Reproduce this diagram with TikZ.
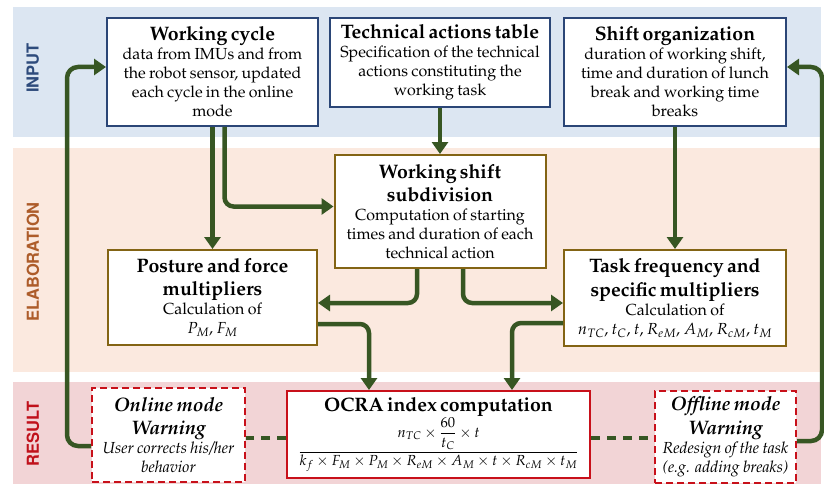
\documentclass[tikz,border=0pt]{standalone}
\usepackage[T1]{fontenc}
\usepackage{amsmath}
\usepackage{mathpazo}
\usepackage{helvet}
\usetikzlibrary{arrows.meta}

\definecolor{bandInput}{HTML}{DCE6F2}
\definecolor{bandElab}{HTML}{FBE9DF}
\definecolor{bandResult}{HTML}{F2D4D6}
\definecolor{txtInput}{HTML}{2E4B7C}
\definecolor{txtElab}{HTML}{AD5C2A}
\definecolor{txtResult}{HTML}{C0111B}
\definecolor{lineNavy}{HTML}{2B4677}
\definecolor{lineOlive}{HTML}{836414}
\definecolor{lineRed}{HTML}{C8101A}
\definecolor{flowGreen}{HTML}{375623}

\newcommand\boxtitle{\fontsize{19.5}{23.5}\selectfont\bfseries}
\newcommand\boxbody{\fontsize{16}{19}\selectfont}
\newcommand\formulasize{\fontsize{14.6}{17}\selectfont}

\tikzset{
  box/.style={draw, line width=2pt, fill=white, inner sep=2pt, align=center},
  inbox/.style={box, draw=lineNavy},
  elbox/.style={box, draw=lineOlive},
  resbox/.style={box, draw=lineRed},
  warnbox/.style={box, draw=lineRed, dash pattern=on 7pt off 4pt},
  flow/.style={draw=flowGreen, line width=4.5pt, rounded corners=9pt,
    -{Triangle[length=12pt,width=16pt]}},
  loopback/.style={flow, rounded corners=11pt},
  link/.style={draw=flowGreen, line width=3.5pt, dash pattern=on 9pt off 7pt},
  bandlabel/.style={rotate=90, font=\sffamily\bfseries\fontsize{16.5}{18}\selectfont},
}

\begin{document}
\begin{tikzpicture}[x=1pt,y=-1pt]
\useasboundingbox (0,0) rectangle (824,484);

% background bands
\fill[bandInput]  (13,7)   rectangle (821,137);
\fill[bandElab]   (13,148) rectangle (821,372);
\fill[bandResult] (13,382) rectangle (821,484);

\node[bandlabel, text=txtInput]  (lblIn)  at (33,68)  {INPUT};
\node[bandlabel, text=txtElab]   (lblEl)  at (33,262) {ELABORATION};
\node[bandlabel, text=txtResult] (lblRes) at (33,434) {RESULT};

% input row
\node[inbox, minimum width=211pt, minimum height=108pt, text width=207pt] (wc) at (212.5,72)
  {{\boxtitle Working cycle\par}\boxbody data from IMUs and from\\ the robot sensor, updated\\ each cycle in the online\\ mode\par};
\node[inbox, minimum width=220pt, minimum height=89pt, text width=216pt] (tat) at (440,62.5)
  {{\boxtitle Technical actions table\par}\boxbody Specification of the technical\\ actions constituting the\\ working task\par};
\node[inbox, minimum width=222pt, minimum height=108pt, text width=218pt] (so) at (675,72)
  {{\boxtitle Shift organization\par}\boxbody duration of working shift,\\ time and duration of lunch\\ break and working time\\ breaks\par};

% elaboration row
\node[elbox, minimum width=211pt, minimum height=113pt, text width=207pt] (wss) at (440,211.5)
  {{\boxtitle Working shift\\ subdivision\par}\boxbody Computation of starting\\ times and duration of each\\ technical action\par};
\node[elbox, minimum width=209pt, minimum height=95pt, text width=205pt] (pf) at (212.5,297.5)
  {{\boxtitle Posture and force\\ multipliers\par}\boxbody Calculation of\\ $P_M$, $F_M$\par};
\node[elbox, minimum width=222pt, minimum height=96pt, text width=218pt] (tf) at (675,298)
  {{\boxtitle Task frequency and\\ specific multipliers\par}\boxbody Calculation of\\ $n_{TC}$, $t_C$, $t$, $R_{eM}$, $A_M$, $R_{cM}$, $t_M$\par};

% result row
\node[resbox, minimum width=303pt, minimum height=87pt, text width=299pt] (ocra) at (438.5,434.5)
  {{\boxtitle OCRA index computation\par}\formulasize
   $\dfrac{n_{TC}\times\dfrac{60}{t_C}\times t}{k_f\times F_M\times P_M\times R_{eM}\times A_M\times t\times R_{cM}\times t_M}$\par};
\node[warnbox, minimum width=153pt, minimum height=94pt, text width=149pt] (online) at (168.5,435)
  {{\boxtitle\itshape Online mode\\ Warning\par}\boxbody\itshape User corrects his/her\\ behavior\par};
\node[warnbox, minimum width=141pt, minimum height=92pt, text width=137pt] (offline) at (725.5,437)
  {{\boxtitle\itshape Offline mode\\ Warning\par}\boxbody\itshape Redesign of the task\\ (e.g. adding breaks)\par};

% flows between blocks
\draw[flow] (wc.south) -- (pf.north);
\draw[flow] ([xshift=12pt]wc.south) |- ([yshift=5pt]wss.west);
\draw[flow] (tat.south) -- (wss.north);
\draw[flow] (so.south) -- (tf.north);
\draw[flow] ([xshift=-23pt]wss.south) |- ([yshift=-5.5pt]pf.east);
\draw[flow] ([xshift=23pt]wss.south) |- ([yshift=-5pt]tf.west);
\draw[flow] ([yshift=-26.5pt]pf.east) -| ([xshift=-69.5pt]ocra.north);
\draw[flow] ([yshift=-25pt]tf.west) -| ([xshift=73.5pt]ocra.north);

% warnings linked to the index
\draw[link] ([yshift=-3.5pt]ocra.west) -- ([yshift=-3.5pt]ocra.west -| online.east);
\draw[link] ([yshift=-3.5pt]ocra.east) -- ([yshift=-3.5pt]ocra.east -| offline.west);

% feedback loops
\draw[loopback] ([yshift=-11pt]online.west) -- ++(-24,0) |- ([yshift=5pt]wc.west);
\draw[loopback] ([yshift=-4pt]offline.east) -- ++(25,0) |- ([yshift=5pt]so.east);
\end{tikzpicture}
\end{document}
